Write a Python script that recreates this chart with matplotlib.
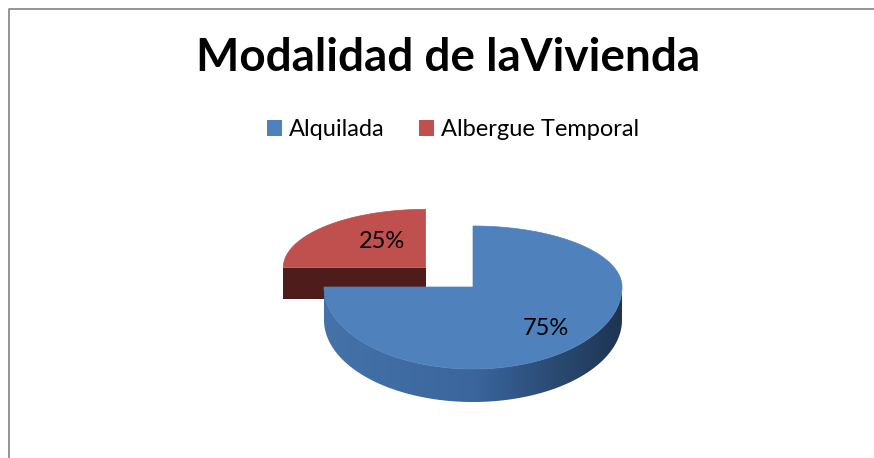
import numpy as np
import matplotlib
matplotlib.use("Agg")
import matplotlib.pyplot as plt
from matplotlib.patches import Polygon, Patch
from matplotlib.colors import LinearSegmentedColormap
from matplotlib.lines import Line2D

# ---- data ----
title = "Modalidad de laVivienda"
categories = ["Alquilada", "Albergue Temporal"]
values = [75, 25]
top_colors = ["#4F81BD", "#C0504D"]
side_colors = [("#4672AA", "#3A669D", "#1E3452"), ("#5A2221", "#4E1C1B", "#3E1515")]
explode = [0.0, 0.45]
depth_scale = [1.0, 0.955]

FONT = ["Lato", "DejaVu Sans"]

W, H = 874, 458
fig = plt.figure(figsize=(W / 100, H / 100), dpi=100)
ax = fig.add_axes([0, 0, 1, 1])
ax.set_xlim(0, W)
ax.set_ylim(H, 0)
ax.axis("off")

# frame
ax.add_line(Line2D([8.5, 8.5, W], [H, 8.5, 8.5], color="#8C8C8C", lw=1.3))

# pie geometry (pixel layout)
CX, CY = 473, 287
RX, RYB, RYF = 149, 61, 82
THICK = 33


def pt(cx, cy, sc, th):
    r = np.radians(th)
    s = np.sin(r)
    ry = np.where(s > 0, RYB, RYF) * sc
    return cx + RX * sc * np.cos(r), cy - ry * s


total = float(sum(values))
start = 90.0
slices = []
for i, v in enumerate(values):
    th1 = start
    th2 = start - v / total * 360.0
    start = th2
    mid = np.radians((th1 + th2) / 2)
    sc = depth_scale[i]
    cx = CX + explode[i] * np.cos(mid) * RX
    cy = CY - explode[i] * np.sin(mid) * RYB
    slices.append((i, th1, th2, cx, cy, sc))

# draw back-most first (red), then blue
for (i, th1, th2, cx, cy, sc) in sorted(slices, key=lambda s: s[4]):
    t = THICK * sc
    c0, c1, c2 = side_colors[i]
    cmap = LinearSegmentedColormap.from_list("s%d" % i, [c0, c1, c2])
    # visible radial faces
    for th, nrm in ((th1, th1 + 90), (th2, th2 - 90)):
        if np.sin(np.radians(nrm)) < -0.01:
            px, py = pt(cx, cy, sc, th)
            ax.add_patch(Polygon([[cx, cy], [px, py], [px, py + t], [cx, cy + t]],
                                 closed=True, fc=c1, ec="none", zorder=2))
    # curved outer side (front half only), gradient via clipped image
    lo = max(th2, -180.0)
    hi = min(th1, 0.0)
    if hi > lo:
        ths = np.linspace(lo, hi, 240)
        xs, ys = pt(cx, cy, sc, ths)
        side = np.vstack([np.column_stack([xs, ys]),
                          np.column_stack([xs[::-1], ys[::-1] + t])])
        sp = Polygon(side, closed=True, fc="none", ec="none", zorder=2)
        ax.add_patch(sp)
        grad = np.linspace(0, 1, 256)[None, :]
        im = ax.imshow(grad, cmap=cmap, aspect="auto", interpolation="bilinear",
                       extent=[xs.min(), xs.max(), ys.max() + t + 1, ys.min() - 1],
                       zorder=2)
        im.set_clip_path(sp)
    # top face
    ths = np.linspace(th1, th2, 240)
    xs, ys = pt(cx, cy, sc, ths)
    poly = np.vstack([[cx, cy], np.column_stack([xs, ys])])
    ax.add_patch(Polygon(poly, closed=True, fc=top_colors[i], ec=top_colors[i],
                         lw=0.5, zorder=3))

ax.set_xlim(0, W)
ax.set_ylim(H, 0)

# data labels
label_frac = [0.69, 0.55]
label_nudge = [(0, 1), (12, -3)]
for (i, th1, th2, cx, cy, sc) in slices:
    mid = np.radians((th1 + th2) / 2)
    lx = cx + label_frac[i] * np.cos(mid) * RX * sc + label_nudge[i][0]
    ry = RYB if np.sin(mid) > 0 else RYF
    ly = cy - label_frac[i] * np.sin(mid) * ry * sc + label_nudge[i][1]
    ax.text(lx, ly, f"{values[i]}%", ha="center", va="center",
            fontsize=17, family=FONT, color="black", zorder=5)

# title
fig.text(448 / W, 1 - 58 / H, title, ha="center", va="center",
         fontsize=33, fontweight="bold", family=FONT)

# legend
handles = [Patch(facecolor=c, edgecolor="none") for c in top_colors]
leg = fig.legend(handles, categories, loc="center", bbox_to_anchor=(453 / W, 1 - 130 / H),
                 ncol=2, frameon=False, prop={"family": FONT, "size": 17},
                 handlelength=0.65, handleheight=0.65, handletextpad=0.3,
                 columnspacing=1.45, borderpad=0, borderaxespad=0)

fig.savefig("out.png", dpi=100)
